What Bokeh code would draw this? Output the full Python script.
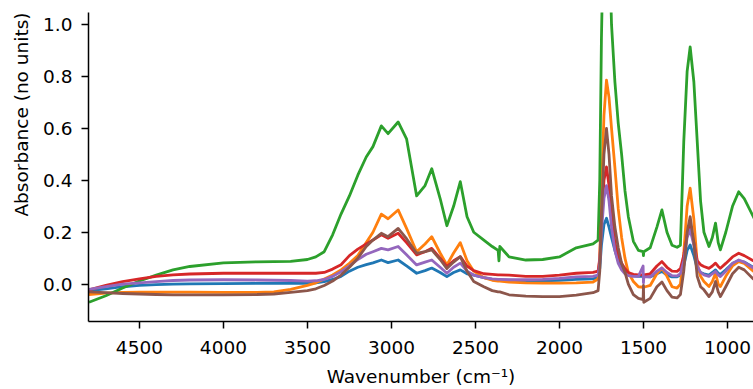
import numpy as np
from bokeh.plotting import figure
from bokeh.models import Range1d, FixedTicker, Title, ColumnDataSource, NumeralTickFormatter
from bokeh.embed import file_html
from bokeh.resources import INLINE

# ---- data ----
wavenumber = [
    4800, 4700, 4600, 4500, 4400, 4300, 4200, 4000, 3800, 3700, 3600,
    3500, 3450, 3400, 3350, 3300, 3250, 3200, 3150, 3110, 3060, 3020, 2960, 2910, 2850, 2800, 2760, 2710, 2670, 2630, 2590, 2550, 2510,
    2450, 2400, 2365, 2360, 2355, 2300, 2200, 2100, 2000, 1900, 1800,
    1770, 1760, 1750, 1735, 1720, 1705, 1690, 1670, 1650, 1630, 1610, 1590, 1560, 1530,
    1502, 1500, 1498, 1460, 1420, 1390, 1360, 1330, 1300,
    1280, 1260, 1240, 1222, 1200, 1180, 1160, 1140, 1110, 1090, 1071, 1055, 1042, 1010, 970, 933, 900, 846, 800,
]

sample_blue = [
    -0.025, -0.018, -0.01, -0.005, -0.002, 0.0, 0.001, 0.002, 0.003, 0.003, 0.003,
    0.003, 0.005, 0.01, 0.018, 0.03, 0.05, 0.065, 0.075, 0.082, 0.093, 0.083, 0.093, 0.07, 0.042, 0.052, 0.062, 0.045, 0.029, 0.045, 0.055, 0.04, 0.035,
    0.025, 0.018, 0.016, 0.016, 0.016, 0.015, 0.013, 0.013, 0.015, 0.018, 0.02,
    0.025, 0.06, 0.15, 0.23, 0.254, 0.22, 0.18, 0.13, 0.09, 0.07, 0.05, 0.04, 0.032, 0.03,
    0.03, 0.03, 0.03, 0.028, 0.04, 0.049, 0.035, 0.028, 0.028,
    0.035, 0.07, 0.13, 0.151, 0.11, 0.06, 0.045, 0.04, 0.035, 0.045, 0.055, 0.042, 0.038, 0.055, 0.08, 0.09, 0.085, 0.065, 0.055,
]

sample_orange = [
    -0.04, -0.035, -0.032, -0.031, -0.031, -0.031, -0.031, -0.032, -0.032, -0.03, -0.02,
    -0.005, 0.005, 0.02, 0.035, 0.055, 0.08, 0.11, 0.16, 0.2, 0.27, 0.252, 0.286, 0.215, 0.125, 0.155, 0.183, 0.12, 0.074, 0.12, 0.16, 0.09, 0.05,
    0.025, 0.015, 0.012, 0.012, 0.012, 0.008, 0.005, 0.004, 0.004, 0.005, 0.008,
    0.02, 0.1, 0.35, 0.65, 0.786, 0.72, 0.6, 0.45, 0.29, 0.18, 0.1, 0.045, 0.01, -0.01,
    -0.012, -0.012, -0.012, -0.005, 0.04, 0.062, 0.03, -0.01, -0.015,
    0.0, 0.12, 0.3, 0.37, 0.25, 0.08, 0.03, 0.01, -0.009, 0.01, 0.042, 0.0, -0.009, 0.03, 0.07, 0.087, 0.08, 0.05, 0.03,
]

sample_green = [
    -0.07, -0.045, -0.015, 0.012, 0.035, 0.055, 0.068, 0.082, 0.086, 0.087, 0.088,
    0.095, 0.105, 0.125, 0.19, 0.27, 0.34, 0.42, 0.49, 0.53, 0.61, 0.58, 0.625, 0.56, 0.34, 0.38, 0.445, 0.33, 0.225, 0.3, 0.395, 0.26, 0.2,
    0.17, 0.145, 0.13, 0.09, 0.145, 0.105, 0.093, 0.095, 0.105, 0.14, 0.155,
    0.17, 0.4, 0.95, 1.45, 1.6, 1.35, 1.0, 0.78, 0.62, 0.5, 0.36, 0.26, 0.165, 0.13,
    0.125, 0.11, 0.125, 0.14, 0.22, 0.286, 0.2, 0.15, 0.142,
    0.15, 0.55, 0.82, 0.914, 0.78, 0.55, 0.32, 0.2, 0.145, 0.18, 0.235, 0.16, 0.132, 0.2, 0.3, 0.356, 0.33, 0.26, 0.2,
]

sample_red = [
    -0.022, -0.005, 0.01, 0.02, 0.03, 0.036, 0.039, 0.042, 0.042, 0.042, 0.042,
    0.042, 0.042, 0.045, 0.058, 0.075, 0.11, 0.135, 0.155, 0.17, 0.19, 0.177, 0.196, 0.16, 0.113, 0.125, 0.138, 0.1, 0.068, 0.09, 0.106, 0.07, 0.052,
    0.04, 0.038, 0.036, 0.036, 0.036, 0.035, 0.03, 0.03, 0.035, 0.042, 0.045,
    0.05, 0.1, 0.25, 0.4, 0.452, 0.38, 0.27, 0.16, 0.11, 0.08, 0.06, 0.045, 0.038, 0.036,
    0.036, 0.036, 0.036, 0.04, 0.07, 0.087, 0.065, 0.05, 0.049,
    0.06, 0.11, 0.19, 0.22, 0.16, 0.09, 0.075, 0.068, 0.061, 0.07, 0.081, 0.068, 0.061, 0.08, 0.105, 0.119, 0.11, 0.09, 0.08,
]

sample_purple = [
    -0.02, -0.01, 0.0, 0.005, 0.01, 0.014, 0.016, 0.017, 0.016, 0.015, 0.014,
    0.012, 0.013, 0.018, 0.03, 0.048, 0.07, 0.095, 0.115, 0.125, 0.138, 0.132, 0.145, 0.113, 0.074, 0.085, 0.093, 0.065, 0.042, 0.065, 0.081, 0.05, 0.035,
    0.025, 0.02, 0.018, 0.018, 0.018, 0.017, 0.017, 0.018, 0.022, 0.028, 0.03,
    0.035, 0.08, 0.2, 0.33, 0.38, 0.32, 0.22, 0.13, 0.08, 0.055, 0.04, 0.033, 0.03, 0.03,
    0.07, 0.005, 0.028, 0.028, 0.05, 0.062, 0.045, 0.033, 0.032,
    0.04, 0.09, 0.18, 0.21, 0.15, 0.07, 0.045, 0.036, 0.03, 0.04, 0.049, 0.036, 0.029, 0.05, 0.08, 0.093, 0.085, 0.062, 0.05,
]

sample_brown = [
    -0.03, -0.033, -0.036, -0.038, -0.04, -0.041, -0.041, -0.041, -0.04, -0.038, -0.032,
    -0.025, -0.018, -0.005, 0.012, 0.035, 0.065, 0.1, 0.145, 0.17, 0.196, 0.183, 0.215, 0.175, 0.119, 0.125, 0.132, 0.095, 0.06, 0.085, 0.106, 0.05, 0.01,
    -0.01, -0.025, -0.03, -0.03, -0.03, -0.041, -0.046, -0.048, -0.048, -0.042, -0.033,
    -0.025, 0.05, 0.25, 0.5, 0.6, 0.5, 0.34, 0.22, 0.14, 0.08, 0.045, 0.0, -0.04, -0.055,
    -0.06, -0.005, -0.07, -0.055, -0.01, 0.008, -0.025, -0.05, -0.053,
    -0.04, 0.05, 0.2, 0.26, 0.16, 0.03, -0.01, -0.022, -0.048, -0.03, 0.01, -0.03, -0.048, -0.01, 0.04, 0.065, 0.055, 0.02, 0.0,
]

series = [sample_blue, sample_orange, sample_green, sample_red, sample_purple, sample_brown]
colors = ["#1f77b4", "#ff7f0e", "#2ca02c", "#d62728", "#9467bd", "#8c564b"]

x_ticks = [1000, 1500, 2000, 2500, 3000, 3500, 4000, 4500]
y_ticks = [0.0, 0.2, 0.4, 0.6, 0.8, 1.0]

x_label = "Wavenumber (cm\u207b\u00b9)"
y_label = "Absorbance (no units)"

FONT = "DejaVu Sans"
FS = "18.5px"

p = figure(width=753, height=389, output_backend="svg", toolbar_location=None,
           x_range=Range1d(4803, 845), y_range=Range1d(-0.144, 1.047),
           min_border_left=88, min_border_right=0, min_border_top=12, min_border_bottom=67)
p.outline_line_color = None
p.grid.visible = False
p.background_fill_color = "white"
p.border_fill_color = "white"

for ys, c in zip(series, colors):
    src = ColumnDataSource(dict(x=wavenumber, y=ys))
    p.line("x", "y", source=src, line_color=c, line_width=2.8, line_join="round")

for ax in (p.xaxis[0], p.yaxis[0]):
    ax.axis_line_color = "black"
    ax.axis_line_width = 1.5
    ax.major_tick_line_color = "black"
    ax.major_tick_line_width = 1.5
    ax.major_tick_out = 7
    ax.major_tick_in = 0
    ax.minor_tick_out = 0
    ax.minor_tick_in = 0
    ax.major_label_text_font = FONT
    ax.major_label_text_font_size = FS
    ax.major_label_text_color = "black"

p.xaxis.ticker = FixedTicker(ticks=x_ticks)
p.yaxis.ticker = FixedTicker(ticks=y_ticks)
p.yaxis.formatter = NumeralTickFormatter(format="0.0")
p.xaxis.major_label_standoff = 12
p.yaxis.major_label_standoff = 9

p.xaxis.axis_label = x_label
p.xaxis.axis_label_text_font = FONT
p.xaxis.axis_label_text_font_size = FS
p.xaxis.axis_label_text_font_style = "normal"
p.xaxis.axis_label_text_color = "black"
p.xaxis.axis_label_standoff = 9

ytitle = Title(text=y_label, align="right", text_font=FONT, text_font_size=FS,
               text_font_style="normal", text_color="black", standoff=17, offset=0)
p.add_layout(ytitle, "left")

open("out.html", "w").write(file_html(p, INLINE))
